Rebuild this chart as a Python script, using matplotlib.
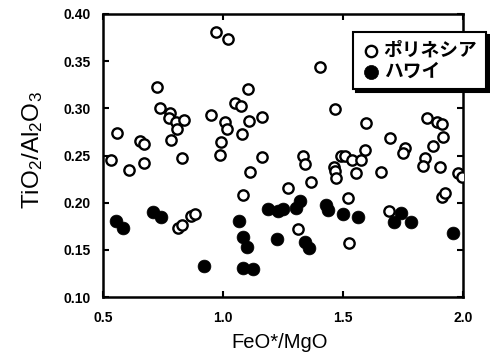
import matplotlib
matplotlib.use("Agg")
import matplotlib.pyplot as plt

# FeO*/MgO vs TiO2/Al2O3 -- Polynesia (open) and Hawaii (filled)

poly_x = [0.971, 1.021, 1.404, 0.725, 1.104, 1.050, 1.075, 0.738, 1.467, 0.779,
          0.775, 0.804, 0.838, 0.808, 0.950, 1.008, 1.017, 1.108, 1.163, 1.850,
          1.892, 1.913, 1.596, 0.558, 0.654, 0.671, 0.783, 0.992, 1.079, 1.696,
          1.917, 1.875, 1.758, 1.750, 1.492, 1.508, 1.538, 1.575, 1.592, 0.533,
          0.608, 0.671, 0.829, 0.988, 1.163, 1.333, 1.342, 1.463, 1.467, 1.471,
          1.554, 1.658, 1.842, 1.833, 1.904, 1.979, 1.996, 1.113, 1.083, 1.271,
          1.367, 1.521, 1.913, 1.925, 1.692, 1.313, 1.525, 0.813, 0.829, 0.867,
          0.883]
poly_y = [0.381, 0.373, 0.344, 0.323, 0.321, 0.306, 0.303, 0.300, 0.299, 0.295,
          0.290, 0.286, 0.288, 0.278, 0.293, 0.286, 0.278, 0.287, 0.291, 0.290,
          0.286, 0.283, 0.285, 0.274, 0.265, 0.262, 0.266, 0.264, 0.273, 0.269,
          0.270, 0.260, 0.258, 0.253, 0.250, 0.250, 0.245, 0.245, 0.256, 0.245,
          0.235, 0.242, 0.247, 0.251, 0.248, 0.250, 0.241, 0.238, 0.234, 0.226,
          0.231, 0.233, 0.247, 0.239, 0.238, 0.231, 0.227, 0.233, 0.208, 0.216,
          0.222, 0.205, 0.206, 0.210, 0.191, 0.172, 0.157, 0.173, 0.176, 0.186,
          0.188]

hawaii_x = [0.554, 0.583, 0.708, 0.742, 0.921, 1.067, 1.083, 1.100, 1.083, 1.125,
            1.188, 1.229, 1.250, 1.225, 1.304, 1.321, 1.342, 1.358, 1.429, 1.438,
            1.500, 1.563, 1.713, 1.742, 1.783, 1.958]
hawaii_y = [0.181, 0.173, 0.190, 0.185, 0.133, 0.181, 0.164, 0.153, 0.131, 0.130,
            0.193, 0.191, 0.193, 0.162, 0.194, 0.202, 0.158, 0.152, 0.198, 0.192,
            0.188, 0.185, 0.180, 0.189, 0.180, 0.168]

xticks = [0.5, 1.0, 1.5, 2.0]
yticks = [0.10, 0.15, 0.20, 0.25, 0.30, 0.35, 0.40]

plt.rcParams['font.family'] = ['Liberation Sans', 'Noto Sans CJK JP', 'DejaVu Sans']
plt.rcParams['mathtext.fontset'] = 'custom'
plt.rcParams['mathtext.rm'] = 'Liberation Sans'
plt.rcParams['mathtext.it'] = 'Liberation Sans'

fig = plt.figure(figsize=(4.9, 3.58), dpi=100)
ax = fig.add_axes([0.210, 0.170, 0.735, 0.791])

ax.scatter(poly_x, poly_y, s=55, facecolors='white', edgecolors='black',
           linewidths=1.7, label='ポリネシア', zorder=3)
ax.scatter(hawaii_x, hawaii_y, s=85, facecolors='black', edgecolors='black',
           linewidths=0.5, label='ハワイ', zorder=3)

ax.set_xlim(0.5, 2.0)
ax.set_ylim(0.10, 0.40)
ax.set_xticks(xticks)
ax.set_yticks(yticks)
ax.set_xticklabels([f"{v:.1f}" for v in xticks], fontweight='bold', fontsize=10)
ax.set_yticklabels([f"{v:.2f}" for v in yticks], fontweight='bold', fontsize=10)
ax.tick_params(direction='in', length=4, width=1.5, top=True, right=True)
ax.tick_params(axis='x', pad=10)
ax.tick_params(axis='y', pad=9)
for sp in ax.spines.values():
    sp.set_linewidth(1.8)

fig.text(280 / 490, 1 - 348 / 358, 'FeO*/MgO', fontsize=14.5,
         ha='center', va='baseline')
fig.text(33 / 490, 1 - 150 / 358, r'TiO$_2$/Al$_2$O$_3$', fontsize=17.5,
         rotation=90, ha='center', va='center')

leg = fig.legend(loc='upper left', bbox_to_anchor=(0.720, 0.910),
                 prop={'family': ['Noto Sans CJK JP'], 'weight': 'bold', 'size': 13.5},
                 frameon=True, fancybox=False, markerscale=1.1,
                 shadow={'color': 'black', 'alpha': 1.0}, borderpad=0.45,
                 handletextpad=0.2, labelspacing=0.1, handlelength=1.0,
                 borderaxespad=0)
leg.get_frame().set_edgecolor('black')
leg.get_frame().set_linewidth(1.5)

fig.savefig('out.png', dpi=100)
